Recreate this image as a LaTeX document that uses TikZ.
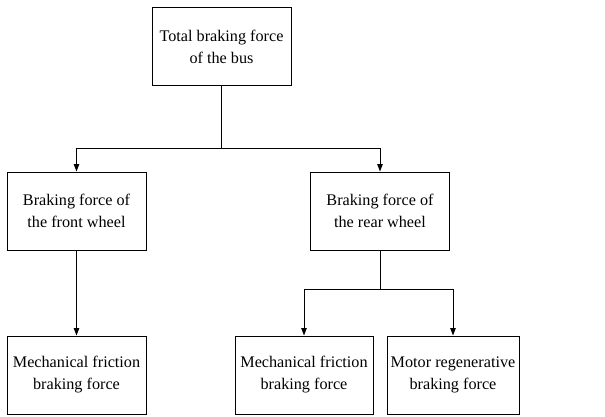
\documentclass[tikz,border=0pt]{standalone}
\usepackage{fontspec}
\setmainfont{Liberation Serif}
\usetikzlibrary{arrows.meta,positioning,calc}

\begin{document}
\begin{tikzpicture}[x=1pt,y=1pt,
  box/.style={draw,line width=1pt,align=center,inner sep=1pt,
    minimum width=139pt,minimum height=78pt,font=\fontsize{16.2}{22}\selectfont},
  link/.style={line width=1pt,-{Triangle[length=7.5pt,width=5.5pt]}}]
  \useasboundingbox (0,0) rectangle (605,-416);
  % Top
  \node[box] (total) at (221.5,-46.5) {Total braking force\\of the bus};
  % Wheels
  \node[box] (front) at (76.5,-211) {Braking force of\\the front wheel};
  \node[box] (rear) at (380,-211) {Braking force of\\the rear wheel};
  % Forces
  \node[box] (ffric) at (76.5,-375) {Mechanical friction\\braking force};
  \node[box,minimum width=138pt] (rfric) at (304,-375) {Mechanical friction\\braking force};
  \node[box,minimum width=132pt] (regen) at (453,-375) {Motor regenerative\\braking force};
  % Junctions
  \coordinate (j1) at (221.5,-148);
  \coordinate (j2) at (380,-289);
  % Connectors
  \draw[line width=1pt] (total) -- (j1);
  \draw[link] (j1) -| (front);
  \draw[link] (j1) -| (rear);
  \draw[link] (front) -- (ffric);
  \draw[line width=1pt] (rear) -- (j2);
  \draw[link] (j2) -| (rfric);
  \draw[link] (j2) -| (regen);
\end{tikzpicture}
\end{document}
